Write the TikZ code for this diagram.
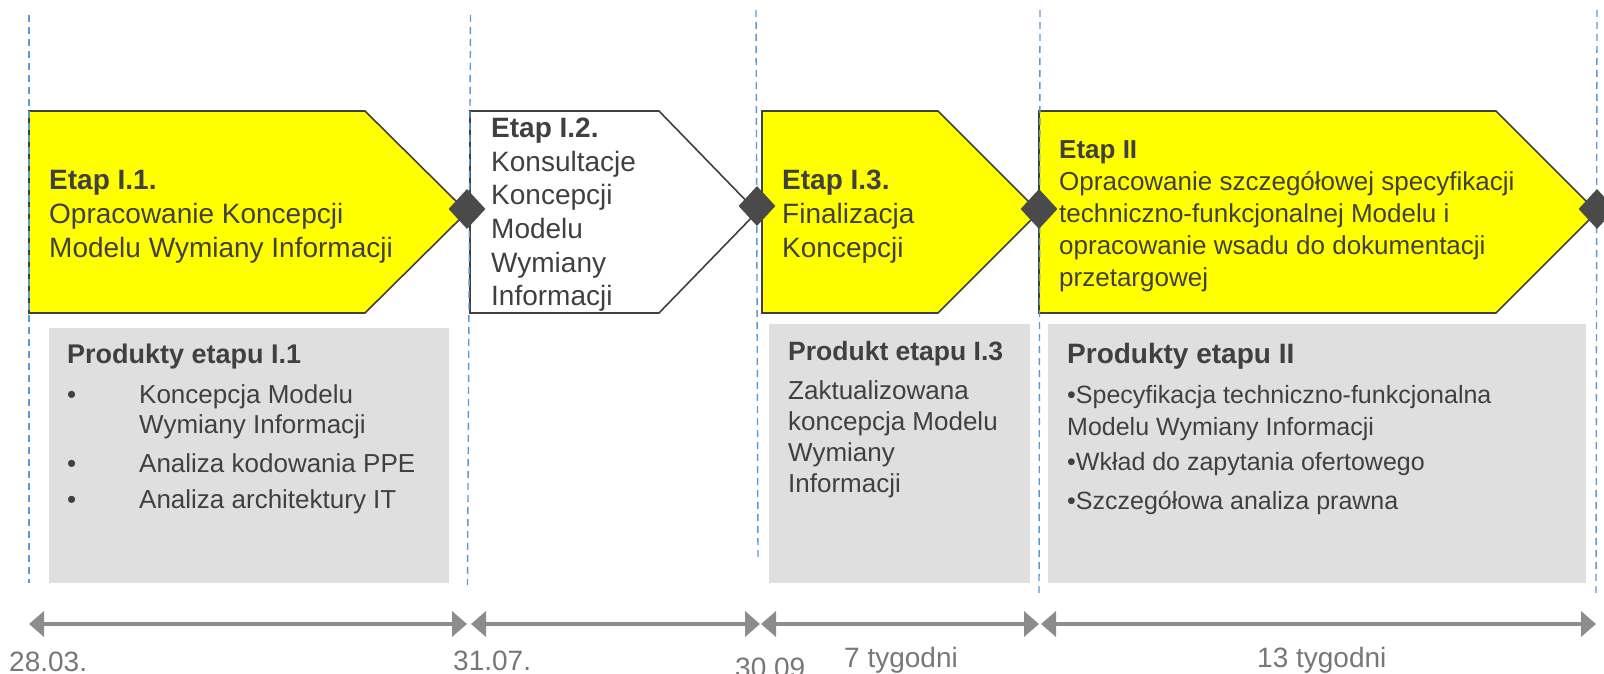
\documentclass[tikz,border=0pt]{standalone}
\usepackage{fontspec}
\setmainfont{Liberation Sans}
\usetikzlibrary{arrows.meta,shapes.geometric}
\definecolor{phyellow}{HTML}{FFFF00}
\definecolor{bordergray}{HTML}{404040}
\definecolor{txtgray}{HTML}{404040}
\definecolor{diamondgray}{HTML}{4A4A4A}
\definecolor{boxgray}{HTML}{DFDFDF}
\definecolor{sepblue}{HTML}{5B9BD5}
\definecolor{arrowgray}{HTML}{8C8C8C}
\definecolor{lblgray}{HTML}{777777}
\begin{document}
\begin{tikzpicture}[x=1pt,y=-1pt,
  phase/.style={draw=bordergray, line width=1.6pt, line join=miter},
  yphase/.style={phase, fill=phyellow},
  wphase/.style={phase, fill=white},
  milestone/.style={diamond, fill=diamondgray, inner sep=0pt, minimum width=37pt, minimum height=40pt},
  sepline/.style={draw=sepblue, line width=1.4pt, dash pattern=on 7pt off 5pt},
  prodbox/.style={fill=boxgray},
  txt/.style={anchor=north west, inner sep=0pt, text=txtgray, align=left},
  dur/.style={draw=arrowgray, line width=4.5pt, {Triangle[length=15pt,width=25pt]}-{Triangle[length=15pt,width=25pt]}},
  datelbl/.style={anchor=base west, inner sep=0pt, text=lblgray, font=\fontsize{28}{34}\selectfont}
]
\useasboundingbox (0,0) rectangle (1604,674);

% product boxes
\fill[prodbox] (49,328) rectangle (449,583);
\fill[prodbox] (769,324) rectangle (1030,583);
\fill[prodbox] (1048,324) rectangle (1586,583);

% phases
\draw[yphase] (29,111) -- (365,111) -- (467,212) -- (365,313) -- (29,313) -- cycle;
\draw[wphase] (470,111) -- (659,111) -- (757,212) -- (659,313) -- (470,313) -- cycle;
\draw[yphase] (762,111) -- (938,111) -- (1039,212) -- (938,313) -- (762,313) -- cycle;
\draw[yphase] (1039,111) -- (1496,111) -- (1597,212) -- (1496,313) -- (1039,313) -- cycle;

% separators
\coordinate (s0a) at (29,15);   \coordinate (s0b) at (29,583);
\coordinate (s1a) at (470.5,15);\coordinate (s1b) at (467.5,585);
\coordinate (s2a) at (756,10);  \coordinate (s2b) at (758,558);
\coordinate (s3a) at (1040,10); \coordinate (s3b) at (1039,598);
\coordinate (s4a) at (1597,10); \coordinate (s4b) at (1596,593);
\draw[sepline] (s0a) -- (s0b);
\draw[sepline] (s1a) -- (s1b);
\draw[sepline] (s2a) -- (s2b);
\draw[sepline] (s3a) -- (s3b);
\draw[sepline] (s4a) -- (s4b);

% milestones
\node[milestone] (m1) at (467,209) {};
\node[milestone] (m2) at (757,206) {};
\node[milestone] (m3) at (1039,209) {};
\node[milestone] (m4) at (1597,209) {};

% phase texts
\node[txt, font=\fontsize{28}{34}\selectfont] (p1) at (49,170)
  {\textbf{Etap I.1.}\\Opracowanie Koncepcji\\Modelu Wymiany Informacji};
\node[txt, font=\fontsize{28}{33.6}\selectfont] (p2) at (491,118)
  {\textbf{Etap I.2.}\\Konsultacje\\Koncepcji\\Modelu\\Wymiany\\Informacji};
\node[txt, font=\fontsize{28}{34}\selectfont] (p3) at (782,170)
  {\textbf{Etap I.3.}\\Finalizacja\\Koncepcji};
\node[txt, font=\fontsize{26}{32}\selectfont] (p4) at (1059,140.4)
  {\textbf{Etap II}\\Opracowanie szczegółowej specyfikacji\\techniczno-funkcjonalnej Modelu i\\opracowanie wsadu do dokumentacji\\przetargowej};

% product texts
\node[txt, font=\fontsize{27}{32}\selectfont\bfseries] (h1) at (67,343.7) {Produkty etapu I.1};
\node[txt, font=\fontsize{26}{30}\selectfont] (b1) at (67,384.4)
  {\makebox[72pt][l]{•}Koncepcja Modelu\\
   \hspace*{72pt}Wymiany Informacji\\[9pt]
   \makebox[72pt][l]{•}Analiza kodowania PPE\\[6pt]
   \makebox[72pt][l]{•}Analiza architektury IT};
\node[txt, font=\fontsize{26.5}{32}\selectfont\bfseries] (h3) at (788,341) {Produkt etapu I.3};
\node[txt, font=\fontsize{26}{31}\selectfont] (b3) at (788,380.4)
  {Zaktualizowana\\koncepcja Modelu\\Wymiany\\Informacji};
\node[txt, font=\fontsize{28}{32}\selectfont\bfseries] (h4) at (1067,343) {Produkty etapu II};
\node[txt, font=\fontsize{25}{32}\selectfont] (b4) at (1067,385)
  {•Specyfikacja techniczno-funkcjonalna\\Modelu Wymiany Informacji\\[3pt]•Wkład do zapytania ofertowego\\[7pt]•Szczegółowa analiza prawna};

% timeline arrows
\coordinate (a1s) at (29,624);   \coordinate (a1e) at (467,624);
\coordinate (a2s) at (471,624);  \coordinate (a2e) at (760,624);
\coordinate (a3s) at (761,624);  \coordinate (a3e) at (1039,624);
\coordinate (a4s) at (1041,624); \coordinate (a4e) at (1596,624);
\draw[dur] (a1s) -- (a1e);
\draw[dur] (a2s) -- (a2e);
\draw[dur] (a3s) -- (a3e);
\draw[dur] (a4s) -- (a4e);

% labels
\node[datelbl] (l1) at (9,671) {28.03.};
\node[datelbl] (l2) at (453,670) {31.07.};
\node[datelbl] (l3) at (735,677) {30.09.};
\node[datelbl] (l4) at (844,667) {7 tygodni};
\node[datelbl] (l5) at (1257,667) {13 tygodni};
\end{tikzpicture}
\end{document}
